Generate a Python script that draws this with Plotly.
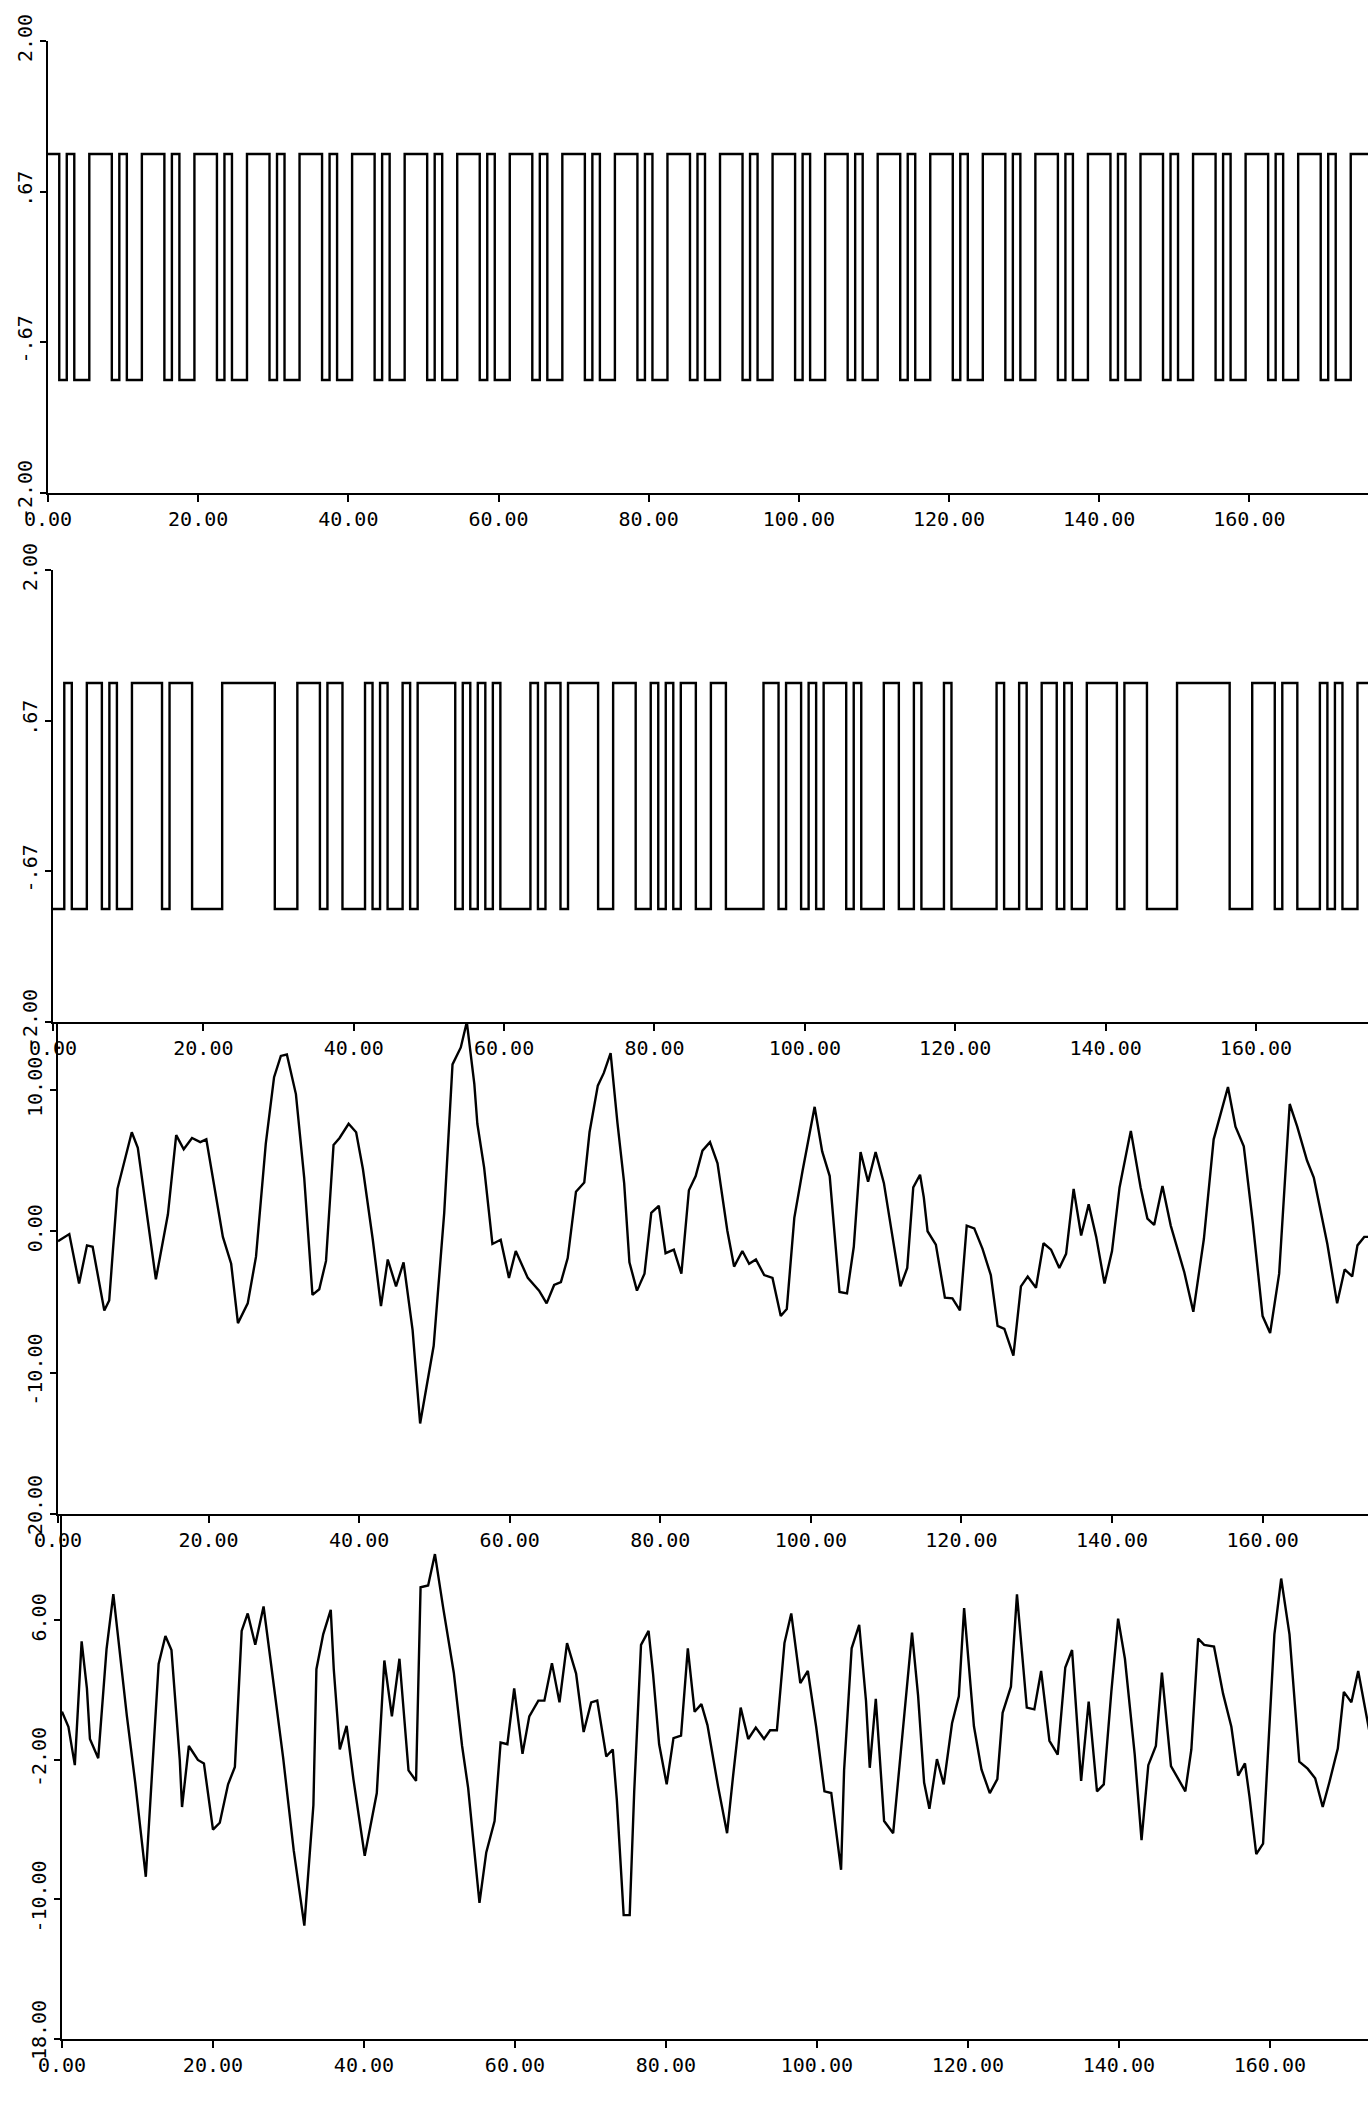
import plotly.graph_objects as go

# ---------------- data ----------------
# Panel 1: periodic binary test signal (levels +1/-1), switching times
U1_START = 1
U1_SWITCH = [1.5, 2.5, 3.5, 5.5, 8.5, 9.5, 10.5, 12.5, 15.5, 16.5, 17.5, 19.5,
             22.5, 23.5, 24.5, 26.5, 29.5, 30.5, 31.5, 33.5, 36.5, 37.5, 38.5, 40.5,
             43.5, 44.5, 45.5, 47.5, 50.5, 51.5, 52.5, 54.5, 57.5, 58.5, 59.5, 61.5,
             64.5, 65.5, 66.5, 68.5, 71.5, 72.5, 73.5, 75.5, 78.5, 79.5, 80.5, 82.5,
             85.5, 86.5, 87.5, 89.5, 92.5, 93.5, 94.5, 96.5, 99.5, 100.5, 101.5, 103.5,
             106.5, 107.5, 108.5, 110.5, 113.5, 114.5, 115.5, 117.5, 120.5, 121.5, 122.5, 124.5,
             127.5, 128.5, 129.5, 131.5, 134.5, 135.5, 136.5, 138.5, 141.5, 142.5, 143.5, 145.5,
             148.5, 149.5, 150.5, 152.5, 155.5, 156.5, 157.5, 159.5, 162.5, 163.5, 164.5, 166.5,
             169.5, 170.5, 171.5, 173.5]

# Panel 2: pseudo-random binary signal (levels +1/-1), switching times
U2_START = -1
U2_SWITCH = [1.5, 2.5, 4.5, 6.5, 7.5, 8.5, 10.5, 14.5, 15.5, 18.5, 22.5, 29.5,
             32.5, 35.5, 36.5, 38.5, 41.5, 42.5, 43.5, 44.5, 46.5, 47.5, 48.5, 53.5,
             54.5, 55.5, 56.5, 57.5, 58.5, 59.5, 63.5, 64.5, 65.5, 67.5, 68.5, 72.5,
             74.5, 77.5, 79.5, 80.5, 81.5, 82.5, 83.5, 85.5, 87.5, 89.5, 94.5, 96.5,
             97.5, 99.5, 100.5, 101.5, 102.5, 105.5, 106.5, 107.5, 110.5, 112.5, 114.5, 115.5,
             118.5, 119.5, 125.5, 126.5, 128.5, 129.5, 131.5, 133.5, 134.5, 135.5, 137.5, 141.5,
             142.5, 145.5, 149.5, 156.5, 159.5, 162.5, 163.5, 165.5, 168.5, 169.5, 170.5, 171.5,
             173.5]

# Panel 3: response signal
Y3_T = [0.0, 1.5, 2.8, 3.85, 4.6, 6.15, 6.8, 7.9, 9.8, 10.6, 13.0, 14.6, 15.7, 16.7, 17.8,
        18.9, 19.7, 21.9, 23.0, 23.9, 25.2, 26.3, 27.6, 28.7, 29.6, 30.4, 31.6, 32.7, 33.8,
        34.7, 35.6, 36.6, 37.4, 38.6, 39.6, 40.5, 41.8, 42.9, 43.8, 44.9, 45.9, 47.1, 48.1,
        49.9, 51.3, 52.4, 53.5, 54.3, 55.3, 55.7, 56.6, 57.7, 58.8, 59.9, 60.8, 62.4, 63.9,
        64.9, 65.9, 66.8, 67.7, 68.8, 69.9, 70.6, 71.7, 72.5, 73.4, 74.3, 75.2, 75.9, 76.9,
        77.9, 78.8, 79.8, 80.7, 81.8, 82.8, 83.8, 84.7, 85.6, 86.6, 87.6, 88.9, 89.8, 90.9,
        91.8, 92.7, 93.8, 94.9, 96.0, 96.8, 97.8, 98.9, 100.5, 101.5, 102.5, 103.8, 104.8,
        105.7, 106.6, 107.6, 108.6, 109.7, 110.8, 111.9, 112.8, 113.6, 114.5, 115.0, 115.5,
        116.6, 117.8, 118.8, 119.8, 120.7, 121.7, 122.8, 123.9, 124.8, 125.7, 126.9, 127.9,
        128.8, 129.9, 130.9, 131.9, 133.0, 133.9, 134.9, 135.9, 136.9, 137.9, 139.0, 140.0,
        141.0, 142.5, 143.8, 144.7, 145.6, 146.7, 147.8, 149.6, 150.8, 152.2, 153.5, 155.4,
        156.4, 157.5, 158.7, 160.0, 161.0, 162.2, 163.6, 164.6, 165.9, 166.8, 168.6, 169.9,
        170.9, 171.9, 172.6, 173.5, 174.1]
Y3_V = [-0.7, -0.2, -3.7, -1.0, -1.1, -5.6, -4.9, 3.0, 7.0, 5.9, -3.4, 1.2, 6.8, 5.8, 6.6,
        6.3, 6.5, -0.4, -2.3, -6.5, -5.1, -1.8, 6.2, 10.9, 12.4, 12.5, 9.7, 3.8, -4.5,
        -4.1, -2.1, 6.1, 6.6, 7.6, 7.0, 4.4, -0.55, -5.3, -2.0, -3.9, -2.2, -7.0, -13.6,
        -8.1, 1.3, 11.8, 13.0, 14.8, 10.4, 7.6, 4.5, -0.9, -0.6, -3.3, -1.4, -3.3, -4.2,
        -5.1, -3.8, -3.6, -1.9, 2.8, 3.45, 7.0, 10.3, 11.2, 12.6, 7.7, 3.4, -2.2, -4.2,
        -3.0, 1.3, 1.8, -1.55, -1.3, -3.0, 2.9, 3.9, 5.7, 6.3, 4.8, 0.05, -2.5, -1.4,
        -2.3, -2.0, -3.1, -3.3, -6.0, -5.5, 0.95, 4.3, 8.8, 5.65, 3.9, -4.3, -4.4,
        -1.1, 5.6, 3.5, 5.6, 3.4, -0.4, -3.9, -2.6, 3.1, 4.0, 2.4, 0.0,
        -0.95, -4.7, -4.75, -5.6, 0.4, 0.2, -1.25, -3.1, -6.7, -6.9, -8.8, -3.9,
        -3.2, -4.0, -0.85, -1.3, -2.6, -1.6, 3.0, -0.3, 1.9, -0.4, -3.7, -1.4,
        3.1, 7.1, 3.1, 0.9, 0.45, 3.2, 0.4, -2.9, -5.7, -0.55, 6.5, 10.2,
        7.4, 6.0, 0.6, -6.0, -7.2, -3.0, 9.0, 7.4, 5.0, 3.8, -0.9, -5.1,
        -2.7, -3.2, -1.0, -0.4, -0.4]

# Panel 4: second response signal
Y4_T = [0.0, 0.85, 1.7, 2.6, 3.3, 3.7, 4.8, 5.9, 6.8, 8.6, 9.7, 11.1, 12.8, 13.7, 14.5,
        15.6, 15.9, 16.8, 18.0, 18.8, 20.0, 20.9, 22.0, 22.9, 23.8, 24.6, 25.6, 26.7, 27.6,
        29.3, 30.7, 32.1, 33.3, 33.7, 34.6, 35.6, 36.0, 36.8, 37.7, 38.6, 40.1, 41.7, 42.7,
        43.7, 44.7, 45.9, 46.9, 47.5, 48.5, 49.4, 50.5, 51.9, 53.0, 53.8, 55.3, 56.2, 57.3,
        58.1, 59.0, 59.9, 61.0, 61.9, 63.1, 63.9, 64.9, 65.9, 66.9, 68.1, 69.1, 70.1, 70.9,
        72.1, 72.96, 73.5, 74.4, 75.2, 75.8, 76.7, 77.7, 78.3, 79.1, 80.1, 81.0, 82.0, 82.9,
        83.8, 84.7, 85.5, 86.9, 88.1, 88.9, 89.9, 90.9, 91.9, 93.0, 93.8, 94.7, 95.7, 96.6,
        97.8, 98.8, 99.9, 101.0, 101.9, 103.2, 103.6, 104.6, 105.6, 106.5, 107.0, 107.8,
        108.9, 110.1, 111.6, 112.6, 113.4, 114.2, 114.9, 115.9, 116.8, 117.9, 118.8, 119.5,
        120.8, 121.8, 122.9, 123.9, 124.6, 125.7, 126.5, 127.8, 128.8, 129.7, 130.8, 131.9,
        132.9, 133.8, 135.0, 136.0, 137.1, 138.0, 139.0, 139.9, 140.8, 142.1, 143.0, 143.9,
        144.9, 145.7, 146.9, 148.8, 149.6, 150.5, 151.3, 152.6, 153.8, 154.9, 155.8, 156.7,
        157.3, 158.2, 159.1, 159.9, 160.6, 161.5, 162.6, 163.9, 165.0, 166.0, 167.0, 167.9,
        169.0, 169.8, 170.8, 171.7, 172.8, 173.2]
Y4_V = [0.77, -0.1, -2.3, 4.8, 2.1, -0.8, -1.9, 4.35, 7.5, 0.5, -3.3, -8.7, 3.5, 5.1, 4.3,
        -2.0, -4.7, -1.2, -2.0, -2.2, -6.0, -5.6, -3.4, -2.4, 5.4, 6.4, 4.6, 6.8, 3.8,
        -1.9, -7.2, -11.5, -4.6, 3.2, 5.2, 6.6, 3.2, -1.4, -0.05, -3.1, -7.5, -3.9, 3.7,
        0.5, 3.8, -2.6, -3.2, 7.9, 8.0, 9.8, 6.7, 3.0, -1.2, -3.6, -10.2, -7.3, -5.5,
        -1.0, -1.1, 2.1, -1.65, 0.5, 1.4, 1.4, 3.55, 1.3, 4.7, 2.95, -0.4, 1.3, 1.4,
        -1.8, -1.4, -4.3, -10.9, -10.9, -3.8, 4.6, 5.4, 2.9, -1.1, -3.4, -0.75, -0.6, 4.4,
        0.76, 1.2, 0.0, -3.5, -6.2, -2.9, 1.0, -0.8, -0.15, -0.8, -0.3, -0.3, 4.7, 6.4,
        2.4, 3.1, -0.1, -3.8, -3.9, -8.3, -2.6, 4.4, 5.75, 1.4, -2.45, 1.5,
        -5.5, -6.2, 0.75, 5.3, 1.7, -3.3, -4.8, -1.95, -3.4, 0.1, 1.65, 6.7,
        -0.07, -2.55, -3.9, -3.1, 0.7, 2.2, 7.5, 1.0, 0.9, 3.1, -0.9, -1.7,
        3.3, 4.3, -3.2, 1.35, -3.8, -3.4, 1.9, 6.1, 3.8, -1.7, -6.6, -2.3,
        -1.2, 3.0, -2.35, -3.8, -1.4, 4.96, 4.6, 4.5, 1.8, -0.1, -2.9, -2.2,
        -4.1, -7.4, -6.8, -0.5, 5.2, 8.4, 5.2, -2.1, -2.5, -3.05, -4.7, -3.25,
        -1.35, 1.9, 1.3, 3.1, 0.5, -0.4]

X_TICKS = [0, 20, 40, 60, 80, 100, 120, 140, 160]
X_TICK_TEXT = ["0.00", "20.00", "40.00", "60.00", "80.00", "100.00", "120.00", "140.00", "160.00"]
Y12_TICKS = [-2.0, -0.6667, 0.6667, 2.0]
Y12_TICK_TEXT = ["-2.00", "-.67", ".67", "2.00"]
Y3_TICKS = [-20, -10, 0, 10]
Y3_TICK_TEXT = ["-20.00", "-10.00", "0.00", "10.00"]
Y4_TICKS = [-18, -10, -2, 6]
Y4_TICK_TEXT = ["-18.00", "-10.00", "-2.00", "6.00"]

# ---------------- layout (pixel geometry) ----------------
W, H = 1368, 2125
FONT = dict(family="DejaVu Sans Mono", size=20, color="black")

# (left px of t=0, x max, top px, bottom px, y range)
PANELS = [
    (48, 175.8, 41, 493, [-2, 2]),
    (53, 174.9, 570, 1022, [-2, 2]),
    (58, 174.0, 1022, 1514, [-20, 14.8]),
    (62, 173.0, 1514, 2039, [-18, 12.1]),
]
YTICKS = [(Y12_TICKS, Y12_TICK_TEXT), (Y12_TICKS, Y12_TICK_TEXT),
          (Y3_TICKS, Y3_TICK_TEXT), (Y4_TICKS, Y4_TICK_TEXT)]


def step_series(level0, switches, t_end):
    xs, ys, lv = [0.0], [level0], level0
    for s in switches:
        lv = -lv
        xs.append(s)
        ys.append(lv)
    xs.append(t_end)
    ys.append(lv)
    return xs, ys


fig = go.Figure()
line = dict(color="black", width=2.4)

x1, y1 = step_series(U1_START, U1_SWITCH, PANELS[0][1])
x2, y2 = step_series(U2_START, U2_SWITCH, PANELS[1][1])
fig.add_trace(go.Scatter(x=x1, y=y1, mode="lines", line=dict(shape="hv", **line),
                         xaxis="x", yaxis="y", showlegend=False))
fig.add_trace(go.Scatter(x=x2, y=y2, mode="lines", line=dict(shape="hv", **line),
                         xaxis="x2", yaxis="y2", showlegend=False))
fig.add_trace(go.Scatter(x=Y3_T, y=Y3_V, mode="lines", line=line,
                         xaxis="x3", yaxis="y3", showlegend=False))
fig.add_trace(go.Scatter(x=Y4_T, y=Y4_V, mode="lines", line=line,
                         xaxis="x4", yaxis="y4", showlegend=False))

layout = dict(width=W, height=H, autosize=False,
              margin=dict(l=0, r=0, t=0, b=0, pad=0, autoexpand=False),
              paper_bgcolor="white", plot_bgcolor="white",
              showlegend=False, font=FONT)

for i, (x0, xmax, ytop, ybot, yr) in enumerate(PANELS):
    n = "" if i == 0 else str(i + 1)
    tv, tt = YTICKS[i]
    layout["xaxis" + n] = dict(
        domain=[x0 / W, 1.0], range=[0, xmax], anchor="y" + n,
        showline=True, linecolor="black", linewidth=2, mirror=False,
        ticks="outside", ticklen=7, tickwidth=2, tickcolor="black",
        tickvals=X_TICKS, ticktext=X_TICK_TEXT, tickfont=FONT,
        showgrid=False, zeroline=False, fixedrange=True, automargin=False)
    layout["yaxis" + n] = dict(
        domain=[1 - ybot / H, 1 - ytop / H], range=yr, anchor="x" + n,
        showline=True, linecolor="black", linewidth=2, mirror=False,
        ticks="outside", ticklen=6, tickwidth=2, tickcolor="black",
        tickvals=tv, ticktext=tt, tickangle=-90, tickfont=FONT,
        showgrid=False, zeroline=False, fixedrange=True, automargin=False)

fig.update_layout(**layout)
fig.write_html("out.html")
